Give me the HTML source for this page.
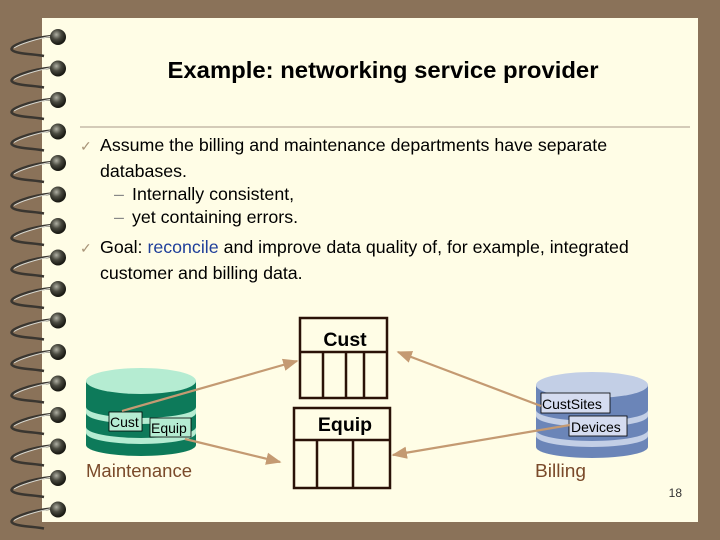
<!DOCTYPE html>
<html><head><meta charset="utf-8"><style>
body{margin:0;width:720px;height:540px;overflow:hidden;background:#8a7259}
svg{display:block}
text{font-family:"Liberation Sans",sans-serif}
</style></head><body>
<svg width="720" height="540" viewBox="0 0 720 540">
<defs>
<radialGradient id="rg" cx="0.4" cy="0.35" r="0.6"><stop offset="0" stop-color="#b0b0a4"/><stop offset="0.5" stop-color="#4a4a40"/><stop offset="1" stop-color="#1a1a14"/></radialGradient>
<marker id="ah" viewBox="0 0 10 10" refX="9" refY="5" markerWidth="7" markerHeight="7" orient="auto"><path d="M0,1 L10,5 L0,9 Z" fill="#c49a72"/></marker>
</defs>
<rect x="0" y="0" width="720" height="540" fill="#8a7259"/>
<rect x="42" y="18" width="656" height="504" fill="#fffde6"/>
<g id="rings">
<g transform="translate(0,36)"><path d="M52,0 C30,2 8,10 12,14 C16,18 34,18 44,20" fill="none" stroke="#3a3630" stroke-width="2.5"/><path d="M52,0 C36,3 20,8 14,12" fill="none" stroke="#d8d8d0" stroke-width="1"/><circle cx="58" cy="1" r="8" fill="url(#rg)"/></g>
</g>
<use href="#rings" y="31.5"/><use href="#rings" y="63"/><use href="#rings" y="94.5"/><use href="#rings" y="126"/><use href="#rings" y="157.5"/><use href="#rings" y="189"/><use href="#rings" y="220.5"/><use href="#rings" y="252"/><use href="#rings" y="283.5"/><use href="#rings" y="315"/><use href="#rings" y="346.5"/><use href="#rings" y="378"/><use href="#rings" y="409.5"/><use href="#rings" y="441"/><use href="#rings" y="472.5"/>
<text x="383" y="78" text-anchor="middle" font-size="23" font-weight="bold" textLength="431" lengthAdjust="spacingAndGlyphs">Example: networking service provider</text>
<line x1="80" y1="127" x2="690" y2="127" stroke="#a8998a" stroke-width="1"/>
<g font-size="17.8" fill="#000">
<text x="80" y="151" fill="#a89478" font-size="14">✓</text>
<text x="100" y="151">Assume the billing and maintenance departments have separate</text>
<text x="100" y="177">databases.</text>
<text x="114" y="200" fill="#888">–</text><text x="132" y="200">Internally consistent,</text>
<text x="114" y="223" fill="#888">–</text><text x="132" y="223">yet containing errors.</text>
<text x="80" y="253" fill="#a89478" font-size="14">✓</text>
<text x="100" y="253">Goal: <tspan fill="#1f3f9a">reconcile</tspan> and improve data quality of, for example, integrated</text>
<text x="100" y="279">customer and billing data.</text>
</g>
<g>
<path d="M86,381 L86,445 A55,11 0 0 0 196,445 L196,381 Z" fill="#0d7a5a"/>
<path d="M86,407 A55,11 0 0 0 196,407 L196,413 A55,11 0 0 1 86,413 Z" fill="#b5ecd2"/>
<path d="M86,427 A55,11 0 0 0 196,427 L196,433 A55,11 0 0 1 86,433 Z" fill="#b5ecd2"/>
<ellipse cx="141" cy="381" rx="55" ry="13" fill="#b5ecd2"/>
<rect x="109" y="412" width="33" height="19" fill="#b5ecd2" stroke="#000" stroke-width="0.8"/>
<text x="110" y="427" font-size="14">Cust</text>
<rect x="150" y="418" width="41" height="19" fill="#b5ecd2" stroke="#000" stroke-width="0.8"/>
<text x="151" y="433" font-size="14">Equip</text>
</g>
<g>
<path d="M536,385 L536,447 A56,11 0 0 0 648,447 L648,385 Z" fill="#6b85b8"/>
<path d="M536,410 A56,11 0 0 0 648,410 L648,416 A56,11 0 0 1 536,416 Z" fill="#c3cfe6"/>
<path d="M536,430 A56,11 0 0 0 648,430 L648,436 A56,11 0 0 1 536,436 Z" fill="#c3cfe6"/>
<ellipse cx="592" cy="385" rx="56" ry="13" fill="#c3cfe6"/>
<rect x="541" y="393" width="69" height="20" fill="#d5dcf0" stroke="#000" stroke-width="0.8"/>
<text x="542" y="409" font-size="14">CustSites</text>
<rect x="569" y="416" width="58" height="20" fill="#d5dcf0" stroke="#000" stroke-width="0.8"/>
<text x="571" y="432" font-size="14">Devices</text>
</g>
<g fill="none" stroke="#2a1208" stroke-width="2.5">
<rect x="300" y="318" width="87" height="80"/>
<line x1="300" y1="352" x2="387" y2="352"/>
<line x1="323" y1="352" x2="323" y2="398"/><line x1="346" y1="352" x2="346" y2="398"/><line x1="364" y1="352" x2="364" y2="398"/>
<rect x="294" y="408" width="96" height="80"/>
<line x1="294" y1="440" x2="390" y2="440"/>
<line x1="317" y1="440" x2="317" y2="488"/><line x1="353" y1="440" x2="353" y2="488"/>
</g>
<text x="345" y="346" text-anchor="middle" font-size="19.5" font-weight="bold">Cust</text>
<text x="345" y="431" text-anchor="middle" font-size="19.5" font-weight="bold">Equip</text>
<g stroke="#c49a72" stroke-width="2.2" marker-end="url(#ah)">
<line x1="122" y1="411" x2="297" y2="361"/>
<line x1="185" y1="439" x2="280" y2="462"/>
<line x1="541" y1="406" x2="398" y2="352"/>
<line x1="570" y1="425" x2="393" y2="455"/>
</g>
<text x="86" y="477" font-size="18" fill="#7a4a2a" textLength="106" lengthAdjust="spacingAndGlyphs">Maintenance</text>
<text x="535" y="477" font-size="18" fill="#7a4a2a" textLength="51" lengthAdjust="spacingAndGlyphs">Billing</text>
<text x="682" y="497" text-anchor="end" font-size="12" font-family="'Liberation Serif',serif" fill="#333">18</text>
</svg>
</body></html>
